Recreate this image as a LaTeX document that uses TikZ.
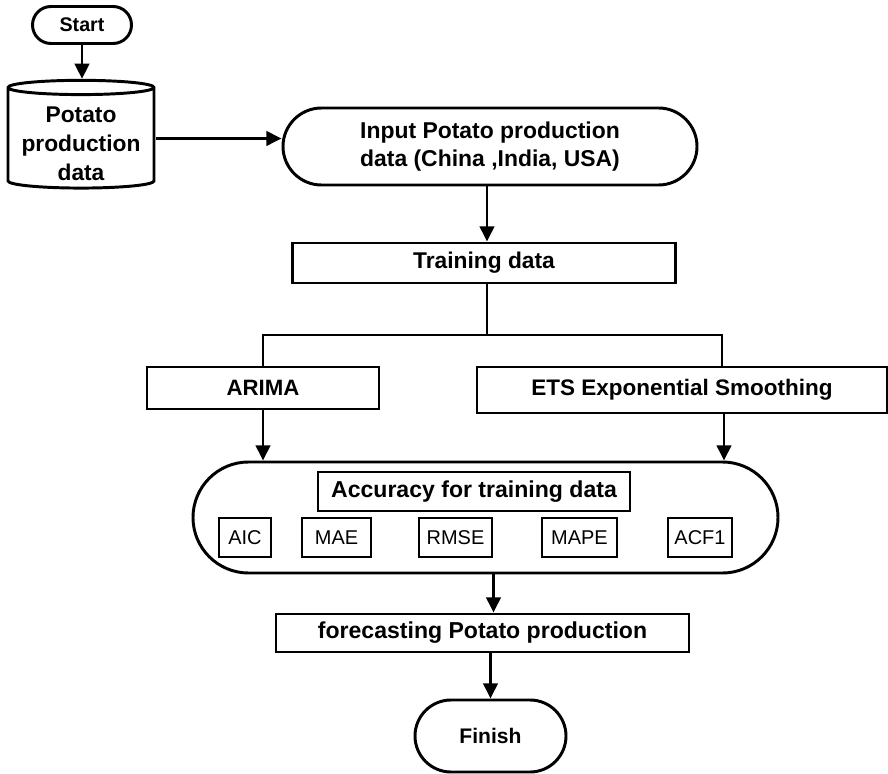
\documentclass[tikz,border=0pt]{standalone}
\usepackage{fontspec}
\setmainfont{Liberation Sans}
\usetikzlibrary{positioning, arrows.meta, shapes.misc, shapes.geometric}

\begin{document}
\begin{tikzpicture}[
		x=0.25mm, y=-0.25mm,
		>={Triangle[length=3.8mm, width=3.6mm]},
		% Terminal / input blocks (stadium shape)
		termbox/.style={
				rounded rectangle, draw, line width=2.1pt, fill=white,
				inner sep=0pt, align=center, font=\bfseries\fontsize{16.3}{20}\selectfont
			},
		% Process blocks
		procbox/.style={
				rectangle, draw, line width=2.1pt, fill=white,
				inner sep=0pt, align=center, font=\bfseries\fontsize{16.2}{20}\selectfont
			},
		% Small accuracy measure boxes
		metricbox/.style={
				rectangle, draw, line width=2.1pt, fill=white, inner sep=0pt,
				minimum height=9.75mm, font=\fontsize{14.2}{16}\selectfont
			},
		% Data store
		dbbox/.style={
				cylinder, shape border rotate=90, aspect=0.12, draw, line width=2.1pt,
				inner sep=0pt, align=center, font=\bfseries\fontsize{16.2}{20.6}\selectfont
			},
		% Connectors
		flow/.style={->, line width=2.1pt},
		link/.style={line width=2.1pt}
	]

	\useasboundingbox (0,0) rectangle (888,774);

	% ==========================================
	% 1. START AND DATA SOURCE
	% ==========================================

	\node[termbox, minimum width=24.75mm, minimum height=9.25mm, font=\bfseries\fontsize{14}{17}\selectfont]
	(start) at (82, 25) {Start};

	% first line strut pushes the text below the top ellipse
	\node[dbbox, minimum width=36.5mm, minimum height=24mm]
	(potdata) at (81, 138.5) {\rule{0pt}{19pt}Potato\\production\\data};

	% ==========================================
	% 2. INPUT AND TRAINING DATA
	% ==========================================

	\node[termbox, minimum width=103.5mm, minimum height=19.25mm]
	(input) at (490, 146.5) {Input Potato production\\data (China ,India, USA)};

	\node[procbox, minimum width=95.75mm, minimum height=10mm]
	(train) at (484, 263) {Training data};

	% ==========================================
	% 3. MODELS
	% ==========================================

	\node[procbox, minimum width=58mm, minimum height=10.5mm, font=\bfseries\fontsize{15.8}{20}\selectfont]
	(arima) at (263, 388) {ARIMA};

	\node[procbox, minimum width=102.5mm, minimum height=11.5mm, font=\bfseries\fontsize{16}{20}\selectfont]
	(ets) at (682, 390) {ETS Exponential Smoothing};

	% ==========================================
	% 4. ACCURACY BLOCK
	% ==========================================

	\node[termbox, minimum width=146.25mm, minimum height=27.75mm] (acc) at (485.5, 517.5) {};
	\node[procbox, minimum width=78mm, minimum height=9.75mm, font=\bfseries\fontsize{16.4}{20}\selectfont]
	(acctitle) at (474, 491.5) {Accuracy for training data};

	\node[metricbox, minimum width=13mm] (aic) at (245, 537.5) {AIC};
	\node[metricbox, minimum width=17.25mm] (mae) at (336.5, 537.5) {MAE};
	\node[metricbox, minimum width=18.25mm] (rmse) at (455.5, 537.5) {RMSE};
	\node[metricbox, minimum width=18.75mm] (mape) at (579.5, 537.5) {MAPE};
	\node[metricbox, minimum width=16mm] (acf) at (700, 537.5) {ACF1};

	% ==========================================
	% 5. FORECAST AND FINISH
	% ==========================================

	\node[procbox, minimum width=103.25mm, minimum height=9.5mm, font=\bfseries\fontsize{16.4}{20}\selectfont]
	(fore) at (482.5, 633) {forecasting Potato production};

	\node[termbox, minimum width=37.75mm, minimum height=18mm, font=\bfseries\fontsize{15}{18}\selectfont]
	(finish) at (490.5, 736) {Finish};

	% ==========================================
	% 6. CONNECTORS
	% ==========================================

	\coordinate (split) at (487, 335);

	\draw[flow] (start.south) -- (start.south |- potdata.north);
	\draw[flow] (potdata.east) -- (potdata.east -| input.west);
	\draw[flow] (input.south -| split) -- (train.north -| split);

	% Branch to both models
	\draw[link] (train.south -| split) -- (split) -| (arima.north);
	\draw[link] (split) -| ([xshift=10mm]ets.north);

	\draw[flow] (arima.south) -- (arima.south |- acc.north);
	\draw[flow] ([xshift=10.5mm]ets.south) -- ([xshift=10.5mm]ets.south |- acc.north);

	\draw[flow] ([xshift=2mm]acc.south) -- ([xshift=2mm]acc.south |- fore.north);
	\draw[flow] (finish.north |- fore.south) -- (finish.north);

\end{tikzpicture}
\end{document}
